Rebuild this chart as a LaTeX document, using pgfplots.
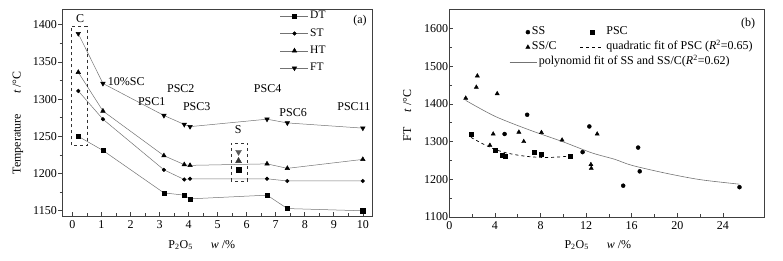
\documentclass[border=0pt]{standalone}
\usepackage{pgfplots}
\pgfplotsset{compat=1.18}
\usepackage{fontspec}
\setmainfont{Liberation Serif}
\begin{document}
\fontsize{12}{14}\selectfont
\begin{tikzpicture}
\path (0pt,0pt) rectangle (783pt,261pt);
\pgfplotsset{
  every axis/.append style={
    font=\fontsize{12}{14}\selectfont,
    scale only axis, anchor=south west,
    /pgf/number format/assume math mode=true,
    /pgf/number format/1000 sep={},
    axis line style={black!75, line width=0.6pt},
    every tick/.style={black!75, line width=0.6pt},
    major tick length=4pt, minor tick length=2.5pt,
    legend cell align=left,
    yticklabel style={inner xsep=1pt},
  },
}
% ---------------- panel (a) ----------------
\begin{axis}[at={(62pt,45pt)}, width=310.7pt, height=207pt,
  xmin=-0.36, xmax=10.34, ymin=1143, ymax=1421,
  xtick={0,1,...,10}, minor x tick num=1, xtick pos=bottom,
  ytick=\empty, tick align=inside,
  xlabel={P\textsubscript{2}O\textsubscript{5}\hspace{18pt}\textit{w} /\%},
  xlabel style={at={(axis description cs:0.45,-0.14)}, anchor=center},
  legend style={draw=none, fill=none, at={(axis description cs:0.7017,1.008)}, anchor=north west, inner sep=0pt,
    font=\fontsize{11.5}{13}\selectfont,
    nodes={text height=8pt, text depth=2.5pt, inner ysep=3.4pt, inner xsep=1.5pt}},
  legend image code/.code={\draw[mark repeat=2,mark phase=2] plot coordinates {(0pt,0pt) (14pt,0pt) (28pt,0pt)};},
]
\addplot[black!55, line width=0.5pt, mark=square*, mark size=2.1pt, mark options={black, fill=black, solid}]
  coordinates {(0.2,1250) (1.05,1231) (3.15,1174) (3.85,1171) (4.05,1166) (6.7,1171) (7.4,1153) (10,1150)};
\addlegendentry{DT}
\addplot[black!55, line width=0.5pt, mark=*, mark size=1.8pt, mark options={black, fill=black, solid}]
  coordinates {(0.2,1311) (1.05,1273) (3.15,1205) (3.85,1192) (4.05,1193) (6.7,1193) (7.4,1190) (10,1190)};
\addlegendentry{ST}
\addplot[black!55, line width=0.5pt, mark=triangle*, mark size=2.6pt, mark options={black, fill=black, solid}]
  coordinates {(0.2,1336) (1.05,1284) (3.15,1224) (3.85,1212) (4.05,1211) (6.7,1213) (7.4,1207) (10,1219)};
\addlegendentry{HT}
\addplot[black!55, line width=0.5pt, mark=triangle*, mark size=2.6pt, mark options={black, fill=black, solid, rotate=180}]
  coordinates {(0.2,1388) (1.05,1321) (3.15,1278) (3.85,1266) (4.05,1263) (6.7,1273) (7.4,1268) (10,1261)};
\addlegendentry{FT}
% sample S
\addplot[only marks, mark=triangle*, mark size=3.4pt, mark options={draw=black!65, fill=black!65, rotate=180}, forget plot]
  coordinates {(5.72,1229)};
\addplot[only marks, mark=triangle*, mark size=3.4pt, mark options={draw=black!80, fill=black!80}, forget plot]
  coordinates {(5.72,1217)};
\addplot[only marks, mark=square*, mark size=2.8pt, mark options={black, fill=black}, forget plot]
  coordinates {(5.72,1205)};
% dashed boxes
\draw[dashed, black!80, line width=0.6pt] (axis cs:-0.03,1238) rectangle (axis cs:0.5,1398);
\draw[dashed, black!80, line width=0.6pt] (axis cs:5.46,1190) rectangle (axis cs:6.03,1241);
\node at (axis cs:0.26,1408) {C};
\node at (axis cs:1.85,1324) {10\%SC};
\node at (axis cs:2.73,1297) {PSC1};
\node at (axis cs:3.73,1314) {PSC2};
\node at (axis cs:4.28,1290) {PSC3};
\node at (axis cs:6.72,1314) {PSC4};
\node at (axis cs:7.6,1282) {PSC6};
\node at (axis cs:9.69,1290) {PSC11};
\node at (axis cs:5.71,1259) {S};
\node at (axis cs:9.9,1405) {(a)};
\end{axis}
% y ticks of panel (a), pointing outward
\begin{axis}[at={(62pt,45pt)}, width=310.7pt, height=207pt,
  xmin=-0.36, xmax=10.34, ymin=1143, ymax=1421,
  hide x axis, tick align=outside,
  ytick={1150,1200,...,1400}, minor y tick num=1, ytick pos=left,
  ylabel={Temperature\hspace{20pt}\textit{t} /°C},
  ylabel style={at={(axis description cs:-0.1416,0.45)}, anchor=center},
]
\end{axis}
% ---------------- panel (b) ----------------
\begin{axis}[at={(449.3pt,44pt)}, width=314.7pt, height=207.5pt,
  xmin=0, xmax=27.6, ymin=1100, ymax=1650,
  xtick={0,4,...,24}, minor x tick num=1,
  ytick={1100,1200,...,1600}, minor y tick num=1,
  tick align=inside, xtick pos=bottom, ytick pos=left,
  xlabel={P\textsubscript{2}O\textsubscript{5}\hspace{18pt}\textit{w} /\%},
  xlabel style={at={(axis description cs:0.472,-0.135)}, anchor=center},
  ylabel={FT\hspace{15pt}\textit{t} /°C},
  ylabel style={at={(axis description cs:-0.134,0.49)}, anchor=center},
  legend columns=2,
  legend style={draw=none, fill=none, at={(axis description cs:0.2425,0.928)}, anchor=north west, inner sep=0pt,
    font=\fontsize{12}{14}\selectfont,
    nodes={text height=8pt, text depth=2.5pt, inner ysep=2.25pt, inner xsep=2pt},
    /tikz/every even column/.append style={column sep=21pt}},
]
\addlegendimage{only marks, mark=*, mark size=2pt, black, legend image code/.code={\draw[mark repeat=2,mark phase=2] plot coordinates {(0pt,0pt) (3pt,0pt) (6pt,0pt)};}}
\addlegendentry{SS}
\addlegendimage{only marks, mark=square*, mark size=2pt, black, legend image code/.code={\draw[mark repeat=2,mark phase=2] plot coordinates {(0pt,0pt) (12pt,0pt) (24pt,0pt)};}}
\addlegendentry{PSC}
\addlegendimage{only marks, mark=triangle*, mark size=2.4pt, black, legend image code/.code={\draw[mark repeat=2,mark phase=2] plot coordinates {(0pt,0pt) (3pt,0pt) (6pt,0pt)};}}
\addlegendentry{SS/C}
\addlegendimage{black, dashed, line width=0.7pt, legend image code/.code={\draw (0pt,0pt) -- (24pt,0pt);}}
\addlegendentry{quadratic fit of PSC (\textit{R}\textsuperscript{2}=0.65)}
\addplot[only marks, mark=*, mark size=2pt, black, forget plot]
  coordinates {(4.85,1320) (6.83,1371) (11.69,1272) (12.28,1340) (15.25,1183) (16.56,1284) (16.7,1221) (25.45,1179)};
\addplot[only marks, mark=triangle*, mark size=2.4pt, black, forget plot]
  coordinates {(1.44,1415) (2.37,1444) (2.46,1474) (3.56,1290) (3.85,1320) (4.2,1427) (6.1,1325) (6.53,1300) (8.08,1324) (9.89,1304) (12.42,1239) (12.45,1229) (12.97,1320)};
\addplot[only marks, mark=square*, mark size=2pt, black, forget plot]
  coordinates {(1.96,1320) (4.0,1277) (4.64,1265) (4.87,1262) (7.41,1272) (8.08,1267) (10.56,1260)};
\addplot[black, dashed, line width=0.7pt, smooth, forget plot]
  coordinates {(1.9,1311) (2.5,1301) (3,1293) (3.5,1286) (4,1279) (5,1270) (6,1264) (7,1260) (8,1258) (9,1258) (10,1260) (10.6,1262)};
\addplot[black!55, line width=0.6pt, smooth, forget plot]
  coordinates {(1.44,1409) (4,1367) (7,1331) (10,1299) (12.5,1270) (14.5,1253) (16,1237) (19,1216) (22,1199) (25.45,1187)};
\node at (axis cs:26.2,1612) {(b)};
\end{axis}
% second legend row of panel (b)
\begin{axis}[at={(449.3pt,44pt)}, width=314.7pt, height=207.5pt,
  xmin=0, xmax=27.6, ymin=1100, ymax=1650, hide axis,
  legend style={draw=none, fill=none, at={(axis description cs:0.19,0.783)}, anchor=north west, inner sep=0pt,
    font=\fontsize{12}{14}\selectfont,
    nodes={text height=8pt, text depth=2.5pt, inner ysep=2.25pt, inner xsep=2pt}},
]
\addlegendimage{black!55, line width=0.6pt, legend image code/.code={\draw (0pt,0pt) -- (27pt,0pt);}}
\addlegendentry{polynomid fit of SS and SS/C(\textit{R}\textsuperscript{2}=0.62)}
\end{axis}
\end{tikzpicture}
\end{document}
